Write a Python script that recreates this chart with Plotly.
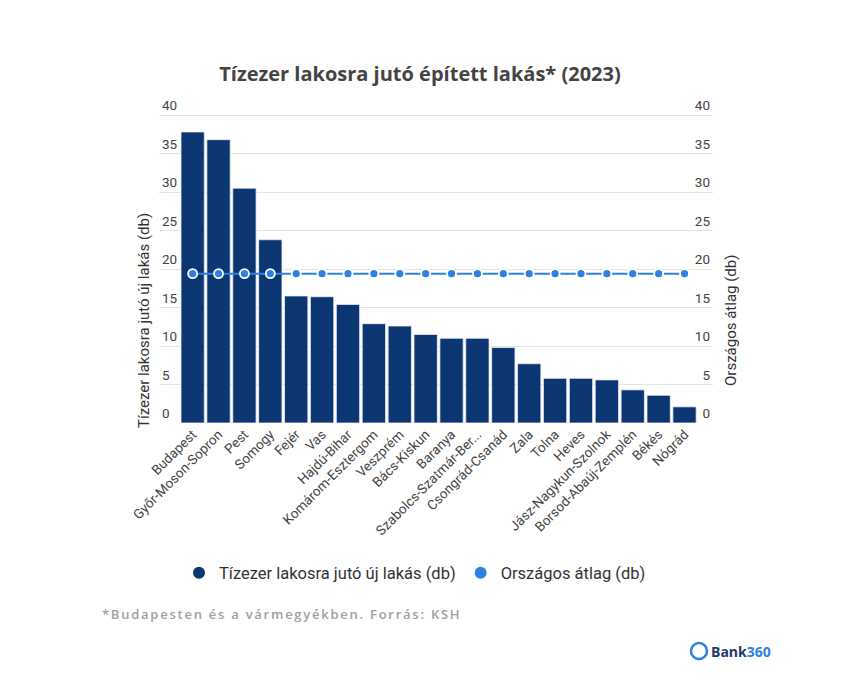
import plotly.graph_objects as go

# --- adatok (KSH, 2023) ---
megyek = [
    "Budapest", "Győr-Moson-Sopron", "Pest", "Somogy", "Fejér", "Vas",
    "Hajdú-Bihar", "Komárom-Esztergom", "Veszprém", "Bács-Kiskun", "Baranya",
    "Szabolcs-Szatmár-Ber...", "Csongrád-Csanád", "Zala", "Tolna", "Heves",
    "Jász-Nagykun-Szolnok", "Borsod-Abaúj-Zemplén", "Békés", "Nógrád",
]
uj_lakas = [37.8, 36.8, 30.5, 23.8, 16.5, 16.4, 15.4, 12.9, 12.6, 11.5,
            11.0, 11.0, 9.8, 7.7, 5.8, 5.8, 5.6, 4.3, 3.6, 2.1]
orszagos_atlag = [19.4] * len(megyek)
y_ticks = [0, 5, 10, 15, 20, 25, 30, 35, 40]

BAR_COLOR = "#0b3672"
LINE_COLOR = "#2f80e3"
TXT = "#444444"
FONT = "Roboto"

# plot terület pixelben: x 159..713, y 95..423 (0..42.6)
L, R, T, B = 159, 713, 95, 423
W, H = R - L, B - T
Y_MAX = 42.6


def px(x):
    return (x - L) / W


def py(y):
    return (B - y) / H


fig = go.Figure()

fig.add_trace(go.Bar(
    x=megyek, y=uj_lakas, name="Tízezer lakosra jutó új lakás (db)",
    marker=dict(color=BAR_COLOR, line=dict(color="#e8edf4", width=0.8)),
    showlegend=False, yaxis="y",
))

fig.add_trace(go.Scatter(
    x=megyek, y=orszagos_atlag, name="Országos átlag (db)", mode="lines+markers",
    line=dict(color=LINE_COLOR, width=2),
    marker=dict(size=9, color=LINE_COLOR, line=dict(color="white", width=1.8)),
    showlegend=False, yaxis="y2",
))

# jelmagyarázat körökkel
for nev, szin in [("Tízezer lakosra jutó új lakás (db)", BAR_COLOR),
                  ("Országos átlag (db)", LINE_COLOR)]:
    fig.add_trace(go.Scatter(
        x=[None], y=[None], mode="markers", name=nev,
        marker=dict(size=14, color=szin, symbol="circle"),
    ))

fig.update_layout(
    width=847, height=682,
    paper_bgcolor="white", plot_bgcolor="white",
    margin=dict(l=L, r=847 - R, t=T, b=682 - B, autoexpand=False),
    bargap=0.1,
    title=dict(
        text="<b>Tízezer lakosra jutó épített lakás* (2023)</b>",
        x=420 / 847, xanchor="center", y=1 - 74 / 682, yanchor="middle",
        font=dict(family="Open Sans", size=20, color=TXT),
    ),
    font=dict(family=FONT, color=TXT),
    legend=dict(
        orientation="h", x=px(415), xanchor="center", y=py(573), yanchor="middle",
        font=dict(family=FONT, size=16.5, color="#333333"),
        itemsizing="constant", itemwidth=30, tracegroupgap=0,
    ),
    xaxis=dict(
        range=[-1.3, 20.1], tickangle=-45, showgrid=False,
        tickfont=dict(family=FONT, size=13.5, color=TXT),
        showline=False, ticks="",
    ),
    yaxis=dict(
        range=[0, Y_MAX], tickvals=y_ticks, showgrid=True, gridcolor="#e4e4e4",
        gridwidth=1, zeroline=False, ticklabelposition="inside top",
        tickfont=dict(family=FONT, size=13.5, color=TXT),
    ),
    yaxis2=dict(
        range=[0, Y_MAX], tickvals=y_ticks, overlaying="y", side="right",
        showgrid=False, zeroline=False, ticklabelposition="inside top",
        tickfont=dict(family=FONT, size=13.5, color=TXT),
    ),
)

# tengelycímek
fig.add_annotation(
    text="Tízezer lakosra jutó új lakás (db)", textangle=-90,
    xref="paper", yref="paper", x=px(144), y=py(321),
    xanchor="center", yanchor="middle",
    showarrow=False, font=dict(family=FONT, size=15, color="#333333"),
)
fig.add_annotation(
    text="Országos átlag (db)", textangle=-90,
    xref="paper", yref="paper", x=px(731), y=py(321),
    xanchor="center", yanchor="middle",
    showarrow=False, font=dict(family=FONT, size=15, color="#333333"),
)

# lábjegyzet
fig.add_annotation(
    text="<span style='letter-spacing:1.75px'>*Budapesten és a vármegyékben. Forrás: KSH</span>",
    xref="paper", yref="paper", x=px(100), y=py(614),
    xanchor="left", yanchor="middle", showarrow=False,
    font=dict(family="Open Sans", size=13, color="#a0a0a0", weight=600),
)

# logó
fig.add_shape(
    type="circle", xref="paper", yref="paper",
    x0=px(691), x1=px(707), y0=py(659), y1=py(643),
    line=dict(color=LINE_COLOR, width=2.5),
)
fig.add_annotation(
    text="<b>Bank<span style='color:#2f80e3'>360</span></b>",
    xref="paper", yref="paper", x=px(709), y=py(651),
    xanchor="left", yanchor="middle", showarrow=False,
    font=dict(family="Open Sans", size=14, color="#1d3a6b"),
)

fig.write_html("out.html", config={"displayModeBar": False},
               post_script="document.body.style.margin='0';")
